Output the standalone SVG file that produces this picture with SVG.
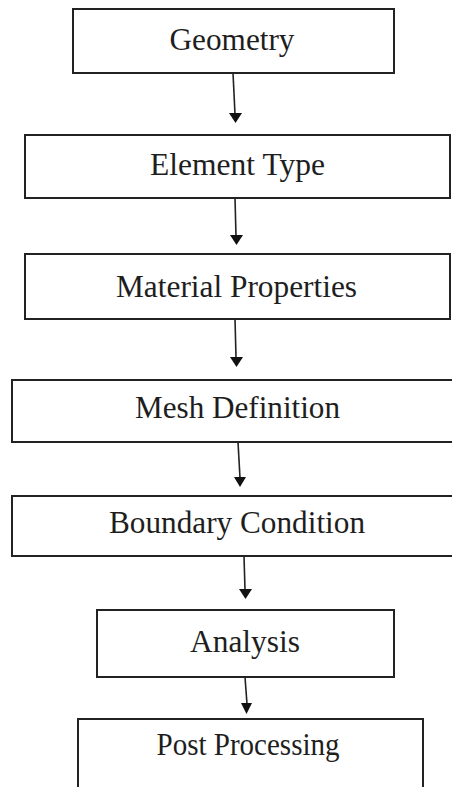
<svg xmlns="http://www.w3.org/2000/svg" width="452" height="787" viewBox="0 0 452 787">
<defs>
<style>
.box{fill:#fff;stroke:#222;stroke-width:2}
.lbl{font-size:32px;fill:#1e1e1e;text-anchor:middle}
.conn line{stroke:#222;stroke-width:1.6}
.conn polygon{fill:#111}
</style>
</defs>
<rect width="452" height="787" fill="#fff"/>
<g font-family="'Liberation Serif', 'DejaVu Serif', serif">
<g id="geometry"><rect class="box" x="73" y="9" width="321" height="64"/><text class="lbl" x="232" y="50" textLength="125" lengthAdjust="spacingAndGlyphs">Geometry</text></g>
<g id="element-type"><rect class="box" x="25" y="135" width="425" height="63"/><text class="lbl" x="237.5" y="175" textLength="175" lengthAdjust="spacingAndGlyphs">Element Type</text></g>
<g id="material-properties"><rect class="box" x="25" y="254" width="425" height="65"/><text class="lbl" x="236.5" y="297" textLength="241" lengthAdjust="spacingAndGlyphs">Material Properties</text></g>
<g id="mesh-definition"><rect class="box" x="12" y="380" width="450" height="62"/><text class="lbl" x="237.5" y="418" textLength="205" lengthAdjust="spacingAndGlyphs">Mesh Definition</text></g>
<g id="boundary-condition"><rect class="box" x="12" y="496" width="450" height="60"/><text class="lbl" x="237" y="533" textLength="256" lengthAdjust="spacingAndGlyphs">Boundary Condition</text></g>
<g id="analysis"><rect class="box" x="97" y="610" width="297" height="67"/><text class="lbl" x="245" y="652" textLength="110" lengthAdjust="spacingAndGlyphs">Analysis</text></g>
<g id="post-processing"><rect class="box" x="78" y="719" width="345" height="90"/><text class="lbl" x="248" y="755" textLength="183" lengthAdjust="spacingAndGlyphs">Post Processing</text></g>
</g>
<g id="connectors" class="conn">
<line x1="233" y1="73" x2="235" y2="114"/><polygon points="229,113 242,113 235.5,123"/>
<line x1="235" y1="198" x2="236" y2="236"/><polygon points="230,235 243,235 236.5,245"/>
<line x1="235" y1="319" x2="236" y2="357"/><polygon points="230,357 243,357 236.5,367"/>
<line x1="238" y1="442" x2="240" y2="478"/><polygon points="234,477 246,477 240,487"/>
<line x1="244" y1="556" x2="245" y2="590"/><polygon points="239,589 252,589 245.5,599"/>
<line x1="245" y1="677" x2="247" y2="704"/><polygon points="241,703 252,703 246.5,714"/>
</g>
</svg>
